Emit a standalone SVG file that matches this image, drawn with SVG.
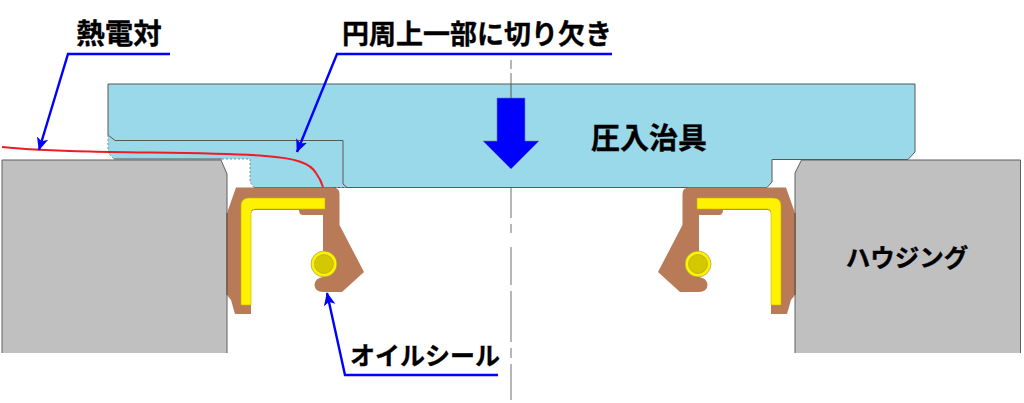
<svg xmlns="http://www.w3.org/2000/svg" xmlns:xlink="http://www.w3.org/1999/xlink" width="1024" height="403" viewBox="0 0 1024 403">
<style>
text{font-family:"Noto Sans CJK JP","Liberation Sans",sans-serif;font-weight:700;fill:#000;stroke:#000;stroke-width:.35}
.housing{fill:#c0c0c0}
.hedge{fill:none;stroke:#5f5f5f;stroke-width:1}
.brown{fill:#b97a57}
.yellow{fill:#fff200;stroke:#c8b400;stroke-width:.6}
.ring{fill:#fff200;stroke:#8c8c50;stroke-width:.6}
.core{fill:#d4c800;stroke:#aaa030;stroke-width:.6}
.lead{fill:none;stroke:#0000ff;stroke-width:2.400}
.edge{fill:none;stroke:#595959;stroke-width:1}
</style>
<defs>
<marker id="ah" viewBox="0 0 10 10" refX="9.500" refY="5" markerWidth="13" markerHeight="13" markerUnits="userSpaceOnUse" orient="auto"><path d="M0 0.500L10 5L0 9.500L2.500 5Z" fill="#0000ff"/></marker>
<g id="sealShape">
<path class="brown" d="M236 187.500H333Q339.500 187.500 339.500 194V225L364 272L342 292H323Q315 292 314.500 285Q315 278 323 277V215H303Q299 215 299 210H255Q251 210 251 214V314H235L231 300L227 295V213Z"/>
<path d="M227 213V295" fill="none" stroke="#5a4030" stroke-width="1"/>
<path class="yellow" d="M249 198H325V209H255Q251 209 251 213V305H241V206Q241 198 249 198Z"/>
<circle class="ring" cx="324" cy="264" r="13"/>
<circle class="core" cx="324" cy="264" r="9.500"/>
</g>
</defs>
<g id="center-line"><path d="M511 60V69M511 73V98M511 175V184M511 188V218M511 224V233M511 247V285M511 291V342M511 348V358M511 364V400" fill="none" stroke="#6e6e6e" stroke-width="1"/></g>
<g id="housing-left"><path class="housing" d="M2 160H221L227 174V353H2Z"/><path class="hedge" d="M2 353V160H221L227 174V353"/></g>
<g id="housing-right"><path class="housing" d="M1020.500 160H801.500L795 173V353H1020.500Z"/><path class="hedge" d="M795 353V173L801.500 160H1020.500V353"/></g>
<g id="jig">
<path d="M108 84H915V152L908 159.500H772V182L767 187.500H254L250 182V159H114L108 153Z" fill="#99d9ea"/>
<path class="edge" d="M108 135V84H915V152L908 159.500H772V182L767 187.500H347L343 184V140.500H115L108 135"/>
<path class="edge" d="M114 159H222"/>
<path class="edge" d="M254 187.500H347"/>
<path d="M108 135V153L114 159M222 159H250V182L254 187.500M336 187.500H347" fill="none" stroke="#7f8f95" stroke-width="1" stroke-dasharray="2 2"/>
<path d="M497 98H525V141H539L511 169L483 141H497Z" fill="#0000ff" stroke="#6a7fb0" stroke-width=".6"/>
<path d="M511 84V98" fill="none" stroke="#595959" stroke-width="1"/>
<text x="649" y="149" font-size="29" text-anchor="middle">圧入治具</text>
</g>
<g id="seal-left"><use xlink:href="#sealShape" href="#sealShape"/></g>
<g id="seal-right"><use xlink:href="#sealShape" href="#sealShape" transform="matrix(-1 0 0 1 1022 0)"/></g>
<path id="thermocouple" d="M2 147C40 151 70 151 110 152C170 153 230 153 265 156C295 158 310 163 316 173Q321 180 323 187" fill="none" stroke="#ed1c24" stroke-width="2"/>
<g id="connectors">
<path class="lead" d="M170 54H68L39 150" marker-end="url(#ah)"/>
<path class="lead" d="M612 54H337L297 152" marker-end="url(#ah)"/>
<path class="lead" d="M498 375H345L327 293" marker-end="url(#ah)"/>
</g>
<g id="label-thermocouple"><text x="119" y="44" font-size="28.500" text-anchor="middle">熱電対</text></g>
<g id="label-notch"><text x="477" y="44" font-size="27" text-anchor="middle">円周上一部に切り欠き</text></g>
<g id="label-seal"><text x="425" y="365" font-size="25" text-anchor="middle">オイルシール</text></g>
<g id="label-housing"><text x="907" y="267" font-size="24.500" text-anchor="middle">ハウジング</text></g>
</svg>
